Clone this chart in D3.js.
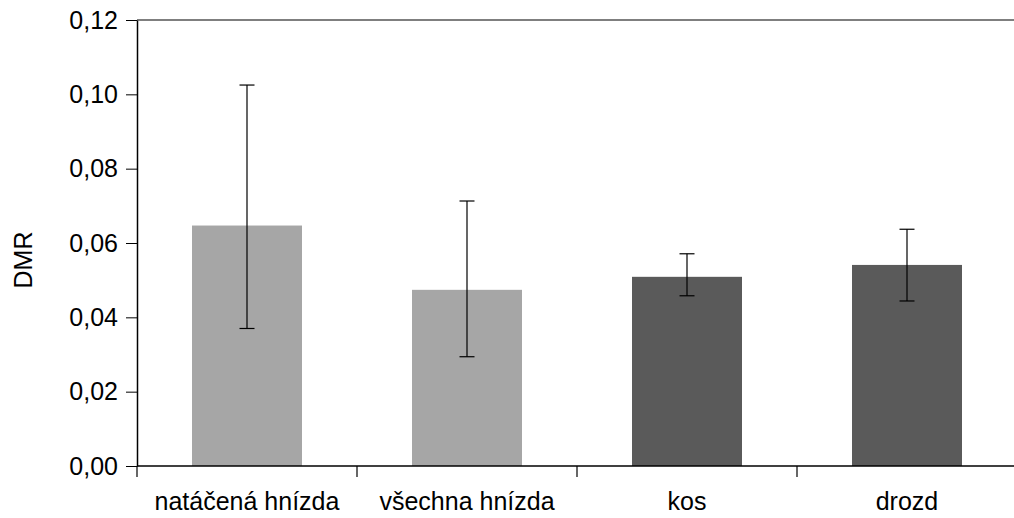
<html>
  <head>
    <meta charset="utf-8">
    <script src="https://cdn.jsdelivr.net/npm/d3@7"></script>
    <style>
     body { margin: 0; background: #fff; }
     text { font-family: "Liberation Sans", Arial, sans-serif; fill: #000; }
     .axis path, .axis line { stroke: #000; }
    </style>
  </head>
  <body>
    <svg id="chart" width="1014" height="518"></svg>
    <script>
     var categories = ["natáčená hnízda", "všechna hnízda", "kos", "drozd"];
     var means = [0.0647, 0.0474, 0.0509, 0.0541];
     var errLow = [0.0370, 0.0294, 0.0458, 0.0444];
     var errHigh = [0.1025, 0.0713, 0.0571, 0.0637];
     var barColors = ["#a6a6a6", "#a6a6a6", "#5a5a5a", "#5a5a5a"];
     var yTicks = [0, 0.02, 0.04, 0.06, 0.08, 0.10, 0.12];

     var svg = d3.select("#chart");

     var mLeft = 137, mRight = 1017, mTop = 20, mBottom = 466;

     var x = d3.scaleBand()
               .domain(categories)
               .range([mLeft, mRight])
               .paddingInner(0.5)
               .paddingOuter(0.25);

     var y = d3.scaleLinear()
               .domain([0, 0.12])
               .range([mBottom, mTop]);

     var cz = d3.formatLocale({decimal: ",", thousands: " ", grouping: [3], currency: ["", ""]});
     var fmt = cz.format(".2f");

     // frame line at top
     svg.append("line")
        .attr("x1", mLeft).attr("x2", mRight)
        .attr("y1", y(0.12)).attr("y2", y(0.12))
        .attr("stroke", "#555").attr("stroke-width", 1.5);

     // bars
     svg.selectAll("rect.bar")
        .data(categories)
        .enter().append("rect")
        .attr("class", "bar")
        .attr("x", function(d) { return x(d); })
        .attr("width", x.bandwidth())
        .attr("y", function(d, i) { return y(means[i]); })
        .attr("height", function(d, i) { return y(0) - y(means[i]); })
        .attr("fill", function(d, i) { return barColors[i]; });

     // error bars
     var err = svg.selectAll("g.err")
                  .data(categories)
                  .enter().append("g")
                  .attr("class", "err")
                  .attr("stroke", "#000")
                  .attr("stroke-width", 1.2);
     var cx = function(d) { return x(d) + x.bandwidth() / 2; };
     err.append("line")
        .attr("x1", cx).attr("x2", cx)
        .attr("y1", function(d, i) { return y(errLow[i]); })
        .attr("y2", function(d, i) { return y(errHigh[i]); });
     err.append("line")
        .attr("x1", function(d) { return cx(d) - 7.5; })
        .attr("x2", function(d) { return cx(d) + 7.5; })
        .attr("y1", function(d, i) { return y(errHigh[i]); })
        .attr("y2", function(d, i) { return y(errHigh[i]); });
     err.append("line")
        .attr("x1", function(d) { return cx(d) - 7.5; })
        .attr("x2", function(d) { return cx(d) + 7.5; })
        .attr("y1", function(d, i) { return y(errLow[i]); })
        .attr("y2", function(d, i) { return y(errLow[i]); });

     // y axis
     var yAxis = svg.append("g")
                    .attr("class", "axis")
                    .attr("transform", "translate(" + mLeft + ",0)")
                    .call(d3.axisLeft(y).tickValues(yTicks).tickFormat(fmt).tickSize(11).tickPadding(8).tickSizeOuter(0));
     yAxis.select(".domain").attr("stroke", "#333").attr("stroke-width", 1.5);
     yAxis.selectAll("text").style("font-size", "25px").attr("fill", "#000");

     // x axis: line with ticks at category boundaries
     var xAxis = svg.append("g")
                    .attr("class", "axis")
                    .attr("transform", "translate(0," + mBottom + ")");
     xAxis.append("line")
          .attr("x1", mLeft).attr("x2", mRight)
          .attr("stroke", "#000").attr("stroke-width", 1.5);
     var step = x.step();
     xAxis.selectAll("line.tick")
          .data(d3.range(categories.length + 1))
          .enter().append("line")
          .attr("class", "tick")
          .attr("x1", function(i) { return mLeft + i * step; })
          .attr("x2", function(i) { return mLeft + i * step; })
          .attr("y1", 0).attr("y2", 11)
          .attr("stroke", "#000").attr("stroke-width", 1.2);
     xAxis.selectAll("text")
          .data(categories)
          .enter().append("text")
          .attr("x", cx)
          .attr("y", 44)
          .attr("text-anchor", "middle")
          .style("font-size", "25px")
          .text(function(d) { return d; });

     // y label
     svg.append("text")
        .attr("transform", "translate(32,260) rotate(-90)")
        .attr("text-anchor", "middle")
        .style("font-size", "25px")
        .text("DMR");
    </script>
  </body>
</html>
